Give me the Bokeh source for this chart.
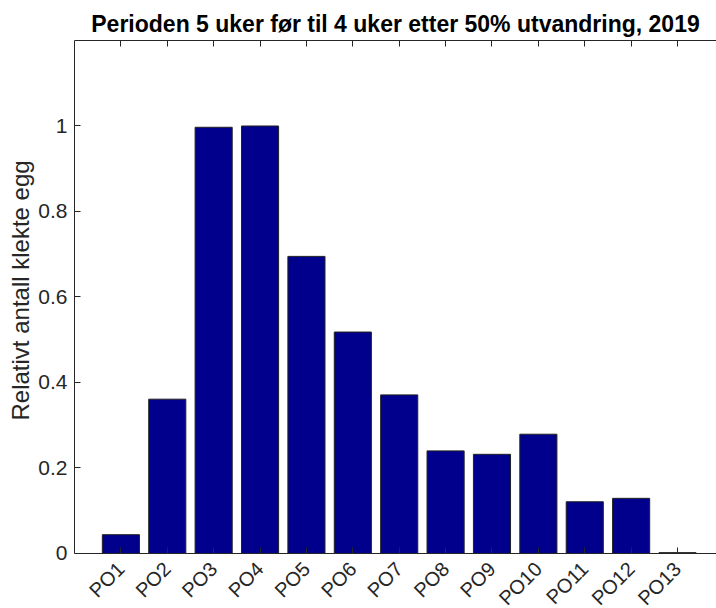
from bokeh.plotting import figure
from bokeh.models import (ColumnDataSource, FixedTicker, LinearAxis, Range1d,
                          CustomJSTickFormatter, Title)
from bokeh.embed import file_html
from bokeh.resources import INLINE

# Data
categories = ["PO1", "PO2", "PO3", "PO4", "PO5", "PO6", "PO7",
              "PO8", "PO9", "PO10", "PO11", "PO12", "PO13"]
values = [0.044, 0.361, 0.997, 1.0, 0.695, 0.518, 0.371,
          0.240, 0.232, 0.279, 0.121, 0.129, 0.002]
y_ticks = [0, 0.2, 0.4, 0.6, 0.8, 1.0]
title_text = "Perioden 5 uker før til 4 uker etter 50% utvandring, 2019"
ylabel_text = "Relativt antall klekte egg"

positions = list(range(1, len(categories) + 1))
src = ColumnDataSource(dict(x=positions, top=values, cat=categories))

FONT = "Liberation Sans"
AX = "#262626"

# frame runs to the bottom of the page; the x axis sits at y = 0
p = figure(width=716, height=608, output_backend="svg", toolbar_location=None,
           x_range=Range1d(0, 13.84), y_range=Range1d(-0.1287, 1.2),
           min_border_left=74, min_border_right=0, min_border_top=40, min_border_bottom=0,
           title=title_text)

p.vbar(x="x", top="top", width=0.8, source=src,
       fill_color="#00008C", line_color="#222222", line_width=1)

p.title.align = "center"
p.title.text_font = FONT
p.title.text_font_size = "23px"
p.title.text_font_style = "bold"
p.title.text_color = "black"
p.title.standoff = 8

p.grid.visible = False
p.outline_line_color = None
p.background_fill_color = "white"
p.border_fill_color = "white"

# x axis
xa = p.xaxis[0]
xa.fixed_location = 0
xa.ticker = FixedTicker(ticks=positions)
xa.major_label_overrides = {pos: c for pos, c in zip(positions, categories)}
xa.major_label_orientation = 0.785398
xa.major_label_text_font = FONT
xa.major_label_text_font_size = "20px"
xa.major_label_text_color = AX
xa.major_tick_in = 6
xa.major_tick_out = 0
xa.minor_tick_line_color = None
xa.axis_line_color = AX
xa.major_tick_line_color = AX
xa.major_label_standoff = 12

# y axis
ya = p.yaxis[0]
ya.bounds = (0, 1.2)
ya.ticker = FixedTicker(ticks=y_ticks)
ya.formatter = CustomJSTickFormatter(code="return String(Math.round(tick*10)/10);")
ya.major_label_text_font = FONT
ya.major_label_text_font_size = "21px"
ya.major_label_text_color = AX
ya.major_tick_in = 6
ya.major_tick_out = 0
ya.minor_tick_line_color = None
ya.axis_line_color = AX
ya.major_tick_line_color = AX
ya.major_label_standoff = 7

# y label as a left-side title, anchored at its start above the page bottom
ylab = Title(text=ylabel_text, align="left", offset=188, standoff=3,
             text_font=FONT, text_font_size="24px", text_font_style="normal",
             text_color=AX)
p.add_layout(ylab, "left")

# top box axis
top = LinearAxis(ticker=FixedTicker(ticks=positions),
                 formatter=CustomJSTickFormatter(code="return '';"),
                 major_tick_in=6, major_tick_out=0, minor_tick_line_color=None,
                 axis_line_color=AX, major_tick_line_color=AX, major_label_standoff=0)
p.add_layout(top, "above")

open("out.html", "w").write(file_html(p, INLINE))
